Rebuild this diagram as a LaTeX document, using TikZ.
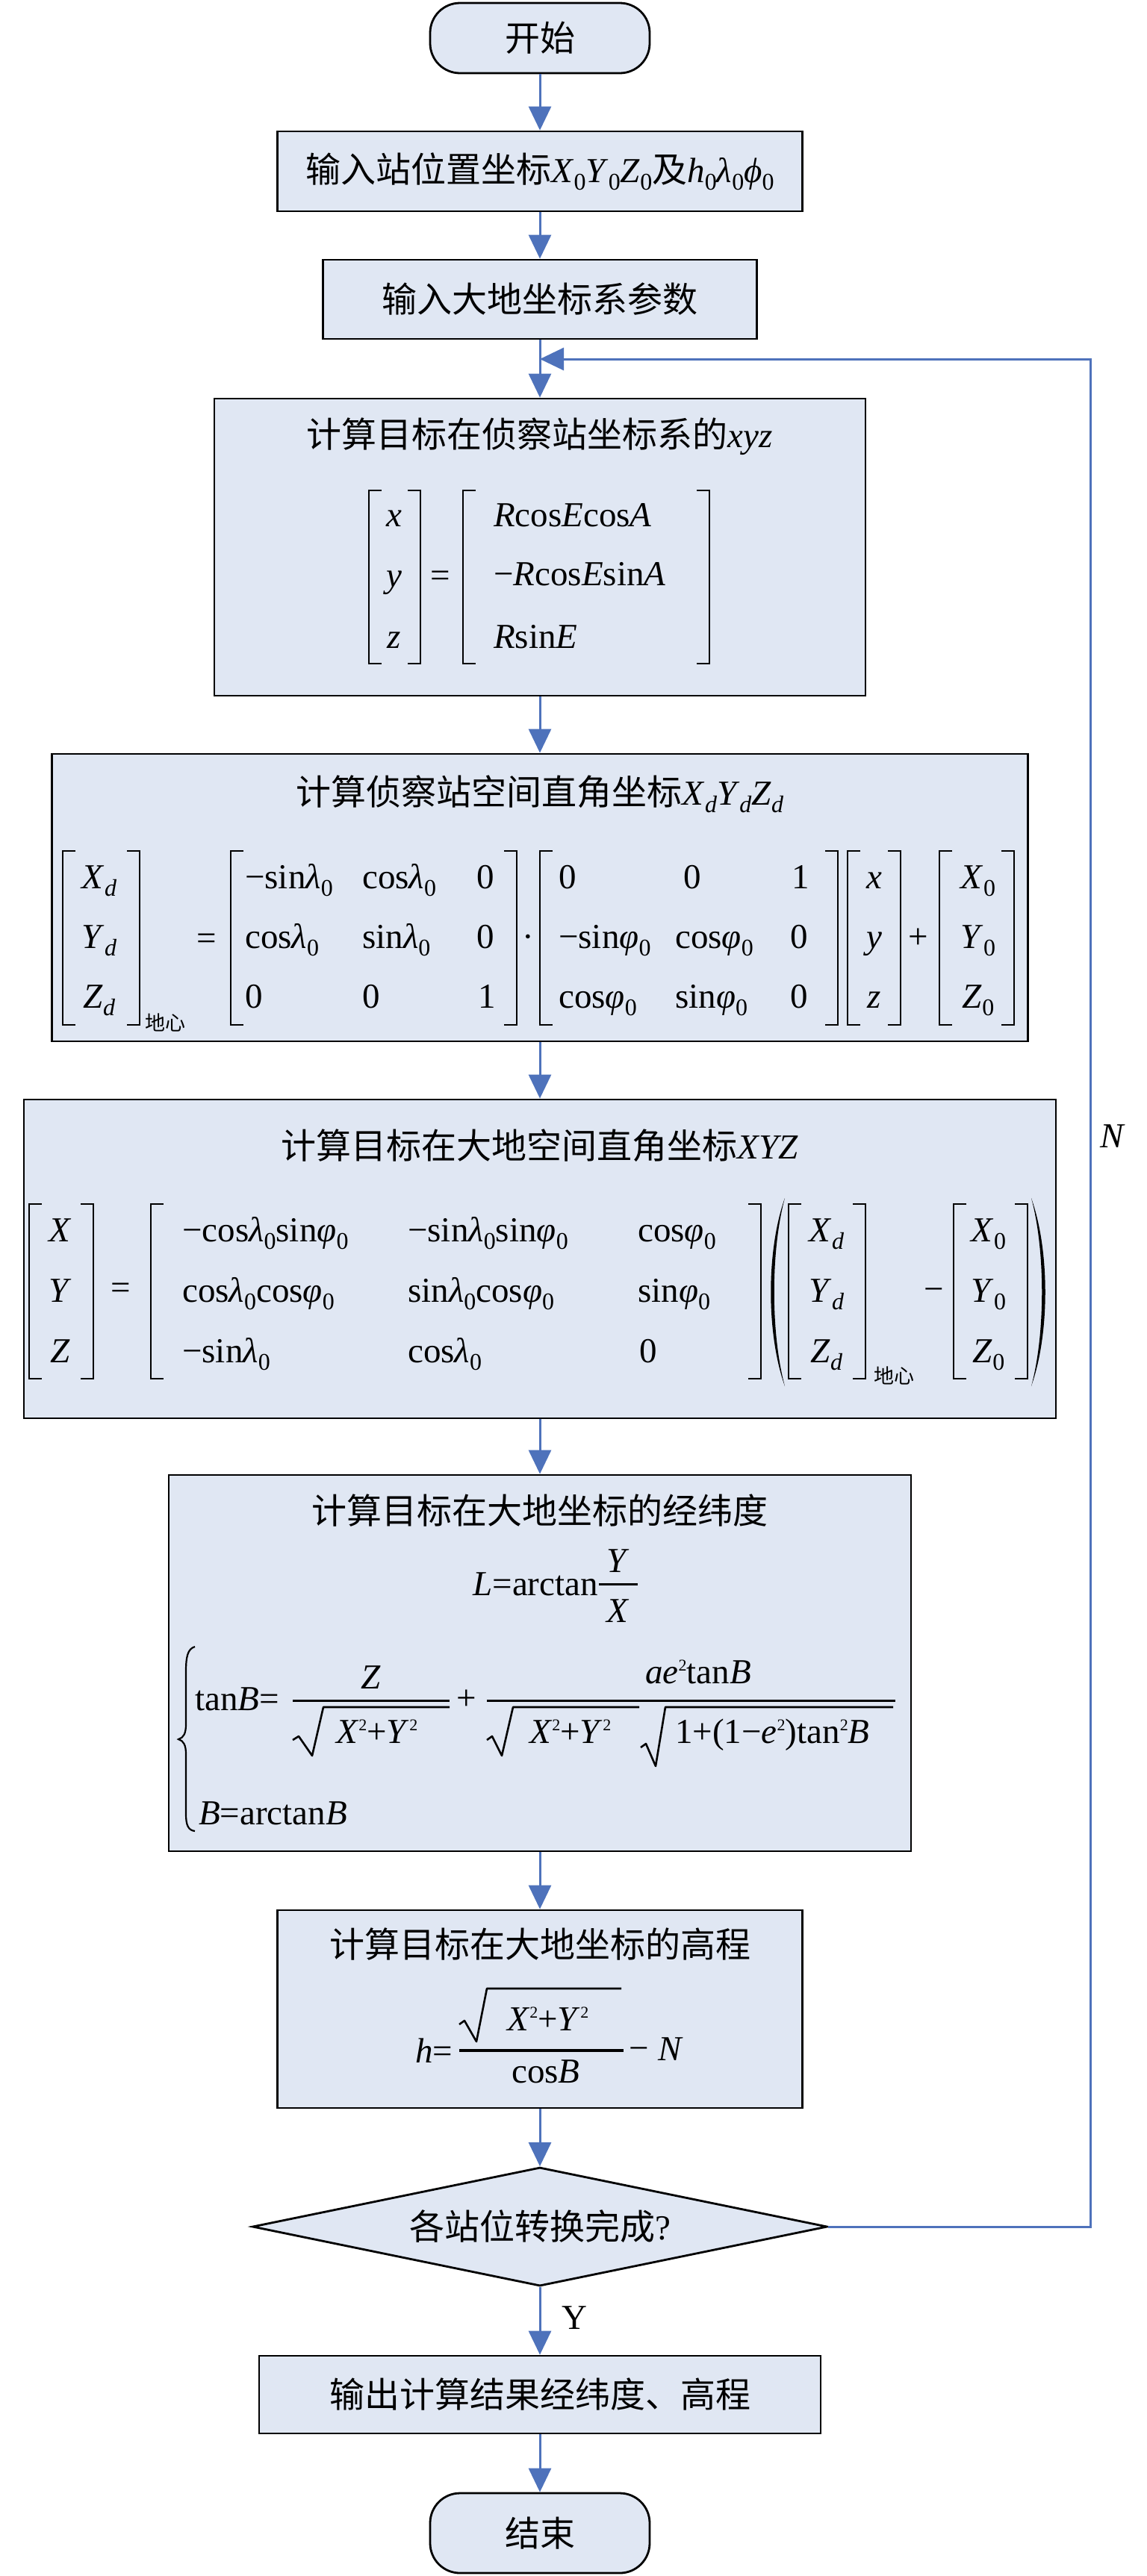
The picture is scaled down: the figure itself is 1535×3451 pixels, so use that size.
\documentclass[tikz,border=0pt]{standalone}
\usepackage{fontspec}
\setmainfont{Liberation Serif}
\newfontfamily\cjk{Noto Sans CJK SC}
\usetikzlibrary{arrows.meta,shapes.geometric}
\definecolor{boxfill}{RGB}{224,231,243}
\definecolor{arrowblue}{RGB}{78,114,187}
\newcommand\fm{\fontsize{47}{56}\selectfont}
\newcommand\iv[1]{\textit{#1}}
\newcommand\mysub[1]{\raisebox{-10pt}{\fontsize{32}{32}\selectfont #1}}
\newcommand\mysup[1]{\raisebox{17pt}{\fontsize{22}{22}\selectfont #1}}
\newcommand\lam{\iv{λ}}
\newcommand\vphi{\iv{φ}}
\newcommand\mi{−}
\newcommand\myLbrk[3]{\draw[brk] (#1+17,#2) -- (#1,#2) -- (#1,#3) -- (#1+17,#3);}
\newcommand\myRbrk[3]{\draw[brk] (#1-17,#2) -- (#1,#2) -- (#1,#3) -- (#1-17,#3);}
\newcommand\myLpar[3]{\fill (#1+22,#2) .. controls (#1-3,#2+70) and (#1-3,#3-70) .. (#1+22,#3) .. controls (#1+3,#3-70) and (#1+3,#2+70) .. (#1+22,#2) -- cycle;}
\newcommand\myRpar[3]{\fill (#1-22,#2) .. controls (#1+3,#2+70) and (#1+3,#3-70) .. (#1-22,#3) .. controls (#1-3,#3-70) and (#1-3,#2+70) .. (#1-22,#2) -- cycle;}
\begin{document}
\begin{tikzpicture}[x=1pt,y=-1pt,
  box/.style={draw=black, line width=2.8pt, fill=boxfill, rectangle, inner sep=0pt, font=\fm},
  conn/.style={draw=arrowblue, line width=3pt, -{Triangle[length=32pt,width=30pt]}, line join=miter},
  tx/.style={inner sep=0pt, font=\fm, anchor=base},
  txw/.style={tx, anchor=base west},
  small/.style={inner sep=0pt, font=\fontsize{27}{27}\selectfont\cjk},
  brk/.style={line width=2.6pt, line join=miter},
  fbar/.style={line width=3.5pt},
  rad/.style={line width=2.6pt, line join=round}]

\fill[white] (0,0) rectangle (1535,3451);
\useasboundingbox (0,0) rectangle (1535,3451);

% ---------- shapes ----------
\node[box, rounded corners=40pt, minimum width=294pt, minimum height=94pt] (st) at (723,51) {{\cjk 开始}};
\node[box, minimum width=703pt, minimum height=107pt] (b1) at (723,229.5)
  {{\cjk 输入站位置坐标}\iv{X}\mysub{0}\iv{Y}\mysub{0}\iv{Z}\mysub{0}{\cjk 及}\iv{h}\mysub{0}\lam\mysub{0}\iv{ϕ}\mysub{0}};
\node[box, minimum width=581pt, minimum height=106pt] (b2) at (723,401) {{\cjk 输入大地坐标系参数}};
\node[box, minimum width=872pt, minimum height=398pt] (b3) at (723,733) {};
\node[box, minimum width=1307pt, minimum height=385pt] (b4) at (723,1202.5) {};
\node[box, minimum width=1382pt, minimum height=427pt] (b5) at (723,1686.5) {};
\node[box, minimum width=994pt, minimum height=504pt] (b6) at (723,2228) {};
\node[box, minimum width=703pt, minimum height=265pt] (b7) at (723,2691.5) {};
\node[box, diamond, aspect=4.84, minimum width=770pt, minimum height=159pt, line join=miter] (dia) at (723,2983) {{\cjk 各站位转换完成}?};
\node[box, minimum width=752pt, minimum height=104pt] (b8) at (723,3208) {{\cjk 输出计算结果经纬度、高程}};
\node[box, rounded corners=40pt, minimum width=294pt, minimum height=107pt] (en) at (723,3393.5) {{\cjk 结束}};

% ---------- connectors ----------
\draw[conn] (st) -- (b1);
\draw[conn] (b1) -- (b2);
\draw[conn] (b2) -- (b3);
\draw[conn] (b3) -- (b4);
\draw[conn] (b4) -- (b5);
\draw[conn] (b5) -- (b6);
\draw[conn] (b6) -- (b7);
\draw[conn] (b7) -- (dia);
\draw[conn] (dia) -- (b8);
\draw[conn] (b8) -- (en);
\coordinate (fr) at (1460,2983);
\coordinate (ft) at (1460,481);
\coordinate (fb) at (723,481);
\draw[conn] (dia.east) -- (fr) -- (ft) -- (fb);
\node[tx] (ly) at (769,3120) {Y};
\node[tx] (ln) at (1490,1537) {\iv{N}};

% ---------- titles ----------
\node[tx] (t3) at (723,599) {{\cjk 计算目标在侦察站坐标系的}\iv{xyz}};
\node[tx] (t4) at (723,1078) {{\cjk 计算侦察站空间直角坐标}\iv{X}\mysub{\iv{d}}\iv{Y}\mysub{\iv{d}}\iv{Z}\mysub{\iv{d}}};
\node[tx] (t5) at (723,1552) {{\cjk 计算目标在大地空间直角坐标}\iv{XYZ}};
\node[tx] (t6) at (723,2041) {{\cjk 计算目标在大地坐标的经纬度}};
\node[tx] (t7) at (723,2622) {{\cjk 计算目标在大地坐标的高程}};

% ---------- box 3 ----------
\myLbrk{494}{657}{889} \myRbrk{563}{657}{889}
\node[tx] (v3a) at (528,705) {\iv{x}};
\node[tx] (v3b) at (528,786) {\iv{y}};
\node[tx] (v3c) at (528,868) {\iv{z}};
\node[tx] (e3) at (590,786) {=};
\myLbrk{620}{657}{889} \myRbrk{950}{657}{889}
\node[txw] (m3a) at (661,705) {\iv{R}cos\iv{E}cos\iv{A}};
\node[txw] (m3b) at (661,784) {\mi\iv{R}cos\iv{E}sin\iv{A}};
\node[txw] (m3c) at (661,868) {\iv{R}sin\iv{E}};

% ---------- box 4 ----------
\myLbrk{84}{1140}{1373} \myRbrk{187}{1140}{1373}
\node[tx] (v4a) at (133,1190) {\iv{X}\mysub{\iv{d}}};
\node[tx] (v4b) at (133,1270) {\iv{Y}\mysub{\iv{d}}};
\node[tx] (v4c) at (133,1350) {\iv{Z}\mysub{\iv{d}}};
\node[small] (dx4) at (221,1370) {地心};
\node[tx] (e4) at (277,1272) {=};
\myLbrk{309}{1140}{1373} \myRbrk{692}{1140}{1373}
\node[txw] (p11) at (328,1190) {\mi sin\lam\mysub{0}};
\node[txw] (p12) at (485,1190) {cos\lam\mysub{0}};
\node[txw] (p13) at (638,1190) {0};
\node[txw] (p21) at (328,1270) {cos\lam\mysub{0}};
\node[txw] (p22) at (485,1270) {sin\lam\mysub{0}};
\node[txw] (p23) at (638,1270) {0};
\node[txw] (p31) at (328,1350) {0};
\node[txw] (p32) at (485,1350) {0};
\node[txw] (p33) at (640,1350) {1};
\node[tx] (d4) at (707,1270) {·};
\myLbrk{723}{1140}{1373} \myRbrk{1122}{1140}{1373}
\node[txw] (q11) at (748,1190) {0};
\node[txw] (q12) at (915,1190) {0};
\node[txw] (q13) at (1060,1190) {1};
\node[txw] (q21) at (748,1270) {\mi sin\vphi\mysub{0}};
\node[txw] (q22) at (904,1270) {cos\vphi\mysub{0}};
\node[txw] (q23) at (1058,1270) {0};
\node[txw] (q31) at (748,1350) {cos\vphi\mysub{0}};
\node[txw] (q32) at (904,1350) {sin\vphi\mysub{0}};
\node[txw] (q33) at (1058,1350) {0};
\myLbrk{1135}{1140}{1373} \myRbrk{1206}{1140}{1373}
\node[tx] (w4a) at (1171,1190) {\iv{x}};
\node[tx] (w4b) at (1171,1270) {\iv{y}};
\node[tx] (w4c) at (1171,1350) {\iv{z}};
\node[tx] (pl4) at (1230,1270) {+};
\myLbrk{1258}{1140}{1373} \myRbrk{1358}{1140}{1373}
\node[tx] (o4a) at (1310,1190) {\iv{X}\mysub{0}};
\node[tx] (o4b) at (1310,1270) {\iv{Y}\mysub{0}};
\node[tx] (o4c) at (1310,1350) {\iv{Z}\mysub{0}};

% ---------- box 5 ----------
\myLbrk{39}{1613}{1847} \myRbrk{125}{1613}{1847}
\node[tx] (v5a) at (81,1663) {\iv{X}};
\node[tx] (v5b) at (81,1744) {\iv{Y}};
\node[tx] (v5c) at (81,1825) {\iv{Z}};
\node[tx] (e5) at (162,1740) {=};
\myLbrk{202}{1613}{1847} \myRbrk{1019}{1613}{1847}
\node[txw] (r11) at (244,1663) {\mi cos\lam\mysub{0}sin\vphi\mysub{0}};
\node[txw] (r12) at (546,1663) {\mi sin\lam\mysub{0}sin\vphi\mysub{0}};
\node[txw] (r13) at (854,1663) {cos\vphi\mysub{0}};
\node[txw] (r21) at (244,1744) {cos\lam\mysub{0}cos\vphi\mysub{0}};
\node[txw] (r22) at (546,1744) {sin\lam\mysub{0}cos\vphi\mysub{0}};
\node[txw] (r23) at (854,1744) {sin\vphi\mysub{0}};
\node[txw] (r31) at (244,1825) {\mi sin\lam\mysub{0}};
\node[txw] (r32) at (546,1825) {cos\lam\mysub{0}};
\node[txw] (r33) at (856,1825) {0};
\myLpar{1029}{1605}{1857}
\myRpar{1403}{1605}{1857}
\myLbrk{1056}{1613}{1847} \myRbrk{1159}{1613}{1847}
\node[tx] (w5a) at (1107,1663) {\iv{X}\mysub{\iv{d}}};
\node[tx] (w5b) at (1107,1744) {\iv{Y}\mysub{\iv{d}}};
\node[tx] (w5c) at (1107,1825) {\iv{Z}\mysub{\iv{d}}};
\node[small] (dx5) at (1197,1843) {地心};
\node[tx] (mn5) at (1251,1742) {\mi};
\myLbrk{1277}{1613}{1847} \myRbrk{1376}{1613}{1847}
\node[tx] (o5a) at (1324,1663) {\iv{X}\mysub{0}};
\node[tx] (o5b) at (1324,1744) {\iv{Y}\mysub{0}};
\node[tx] (o5c) at (1324,1825) {\iv{Z}\mysub{0}};

% ---------- box 6 ----------
\node[anchor=base east, inner sep=0pt, font=\fm] (l6) at (801,2137) {\iv{L}=arctan};
\draw[fbar] (802,2122.5) -- (854,2122.5);
\node[tx] (l6n) at (828,2106) {\iv{Y}};
\node[tx] (l6d) at (828,2173) {\iv{X}};
\draw[line width=2.2pt] (261,2206) .. controls (251,2209) and (249,2220) .. (249,2240) -- (249,2310)
  .. controls (249,2322) and (246,2328) .. (239,2330) .. controls (246,2332) and (249,2338) .. (249,2350)
  -- (249,2430) .. controls (249,2445) and (252,2452) .. (261,2453);
\node[txw] (tb6) at (261,2291) {tan\iv{B}=};
\draw[fbar] (392,2278.5) -- (602,2278.5);
\node[tx] (z6) at (497,2262) {\iv{Z}};
\draw[rad] (392,2331) -- (400,2326) -- (418,2352) -- (433,2287) -- (602,2287);
\node[txw] (s6a) at (450,2335) {\iv{X}\mysup{2}+\iv{Y}\mysup{2}};
\node[tx] (pl6) at (625,2290) {+};
\draw[fbar] (652,2278.5) -- (1199,2278.5);
\node[tx] (n6) at (935,2255) {\iv{ae}\mysup{2}tan\iv{B}};
\draw[rad] (652,2331) -- (659,2326) -- (672,2352) -- (687,2287) -- (856,2287);
\node[txw] (s6b) at (709,2335) {\iv{X}\mysup{2}+\iv{Y}\mysup{2}};
\draw[rad] (858,2341) -- (865,2336) -- (878,2366) -- (891,2287) -- (1196,2287);
\node[txw] (s6c) at (904,2335) {1+(1\mi\iv{e}\mysup{2})tan\mysup{2}\iv{B}};
\node[txw] (ba6) at (266,2444) {\iv{B}=arctan\iv{B}};

% ---------- box 7 ----------
\node[txw] (h7) at (556,2763) {\iv{h}=};
\draw[fbar] (615,2747) -- (835,2747);
\draw[rad] (615,2712) -- (622,2707) -- (638,2735) -- (652,2664) -- (832,2664);
\node[txw] (s7) at (679,2720) {\iv{X}\mysup{2}+\iv{Y}\mysup{2}};
\node[tx] (c7) at (731,2790) {cos\iv{B}};
\node[tx] (mn7) at (856,2759) {\mi};
\node[txw] (n7) at (881,2760) {\iv{N}};
\end{tikzpicture}
\end{document}
